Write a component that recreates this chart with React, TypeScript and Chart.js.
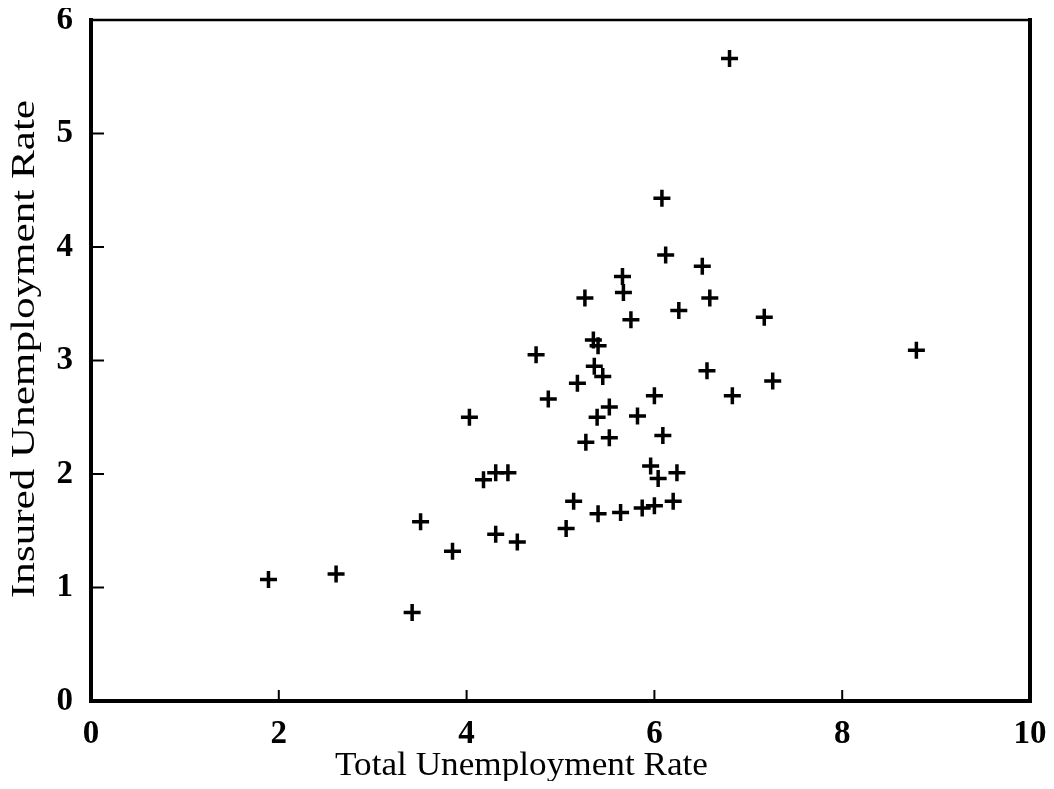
import React, { useEffect, useRef } from "react";
import { Chart, registerables } from "chart.js";

Chart.register(...registerables);

const totalRate = [
  1.89, 2.61, 3.42, 3.51, 3.85, 4.03, 4.18, 4.31, 4.44, 4.31,
  4.54, 4.87, 4.74, 5.06, 5.14, 5.18, 5.26, 5.27, 5.35, 5.40,
  5.36, 5.45, 5.39, 5.40, 5.52, 5.52, 5.64, 5.66, 5.67, 5.75,
  5.82, 5.87, 5.96, 6.00, 6.00, 6.04, 6.08, 6.09, 6.12, 6.20,
  6.24, 6.26, 6.51, 6.56, 6.59, 6.80, 6.83, 7.17, 7.26, 8.79,
];
const insuredRate = [
  1.07, 1.12, 0.78, 1.58, 1.32, 2.50, 1.95, 2.01, 2.01, 1.47,
  1.40, 2.66, 3.05, 1.52, 1.76, 2.80, 3.55, 2.28, 3.18, 3.13,
  2.95, 2.86, 2.50, 1.65, 2.59, 2.32, 1.66, 3.74, 3.60, 3.36,
  2.51, 1.70, 2.07, 2.69, 1.72, 1.96, 4.43, 2.34, 3.93, 1.76,
  2.01, 3.44, 3.83, 2.91, 3.55, 5.66, 2.69, 3.38, 2.82, 3.09,
];
const xTickValues = [0, 2, 4, 6, 8, 10];
const yTickValues = [0, 1, 2, 3, 4, 5, 6];
const xTitle = "Total Unemployment Rate";
const yTitle = "Insured Unemployment Rate";

const FONT = "'Liberation Serif', 'Times New Roman', serif";

const framePlugin = {
  id: "frameAndTitles",
  afterDraw(chart: any) {
    const { ctx, chartArea } = chart;
    const { left, right, top, bottom } = chartArea;
    ctx.save();
    ctx.strokeStyle = "#000";
    ctx.lineCap = "square";
    // frame
    ctx.lineWidth = 4;
    ctx.beginPath();
    ctx.moveTo(left, top);
    ctx.lineTo(left, bottom);
    ctx.lineTo(right, bottom);
    ctx.lineTo(right, top);
    ctx.stroke();
    ctx.lineWidth = 2.5;
    ctx.beginPath();
    ctx.moveTo(left, top);
    ctx.lineTo(right, top);
    ctx.stroke();
    // inward ticks
    ctx.lineWidth = 2;
    const xs = chart.scales.x;
    const ys = chart.scales.y;
    xTickValues.forEach((v) => {
      const px = xs.getPixelForValue(v);
      ctx.beginPath();
      ctx.moveTo(px, bottom);
      ctx.lineTo(px, bottom - 10);
      ctx.stroke();
    });
    yTickValues.forEach((v) => {
      const py = ys.getPixelForValue(v);
      ctx.beginPath();
      ctx.moveTo(left, py);
      ctx.lineTo(left + 12, py);
      ctx.stroke();
    });
    // axis titles
    ctx.fillStyle = "#000";
    ctx.font = `34px ${FONT}`;
    ctx.textBaseline = "alphabetic";
    ctx.textAlign = "center";
    let w = ctx.measureText(xTitle).width;
    ctx.save();
    ctx.translate(513.5, 767);
    ctx.scale(373 / w, 1);
    ctx.fillText(xTitle, 0, 0);
    ctx.restore();

    ctx.font = `33px ${FONT}`;
    w = ctx.measureText(yTitle).width;
    ctx.save();
    ctx.translate(26, 341);
    ctx.rotate(-Math.PI / 2);
    ctx.scale(498 / w, 1);
    ctx.fillText(yTitle, 0, 0);
    ctx.restore();
    ctx.restore();
  },
};

export default function App() {
  const ref = useRef<HTMLCanvasElement | null>(null);
  useEffect(() => {
    if (!ref.current) return;
    const data = totalRate.map((x, i) => ({ x, y: insuredRate[i] }));
    const tickFont = { family: FONT, size: 33, weight: "bold" as const };
    const chart = new Chart(ref.current, {
      type: "scatter",
      data: {
        datasets: [
          {
            data,
            pointStyle: "cross",
            pointRadius: 8.5,
            pointHoverRadius: 8.5,
            borderColor: "#000",
            backgroundColor: "#000",
            borderWidth: 3.5,
            pointBorderWidth: 3.5,
          },
        ],
      },
      options: {
        animation: false,
        responsive: false,
        maintainAspectRatio: false,
        layout: { padding: { left: 0, top: 12, right: 16, bottom: 0 } },
        plugins: { legend: { display: false }, tooltip: { enabled: false } },
        scales: {
          x: {
            type: "linear",
            min: 0,
            max: 10,
            afterBuildTicks: (s: any) => {
              s.ticks = xTickValues.map((v) => ({ value: v }));
            },
            afterFit: (s: any) => {
              s.height = 80;
              s.paddingLeft = 0;
              s.paddingRight = 0;
            },
            grid: { display: false, drawTicks: false },
            border: { display: false },
            ticks: { color: "#000", font: tickFont, padding: 14, maxRotation: 0 },
          },
          y: {
            type: "linear",
            min: 0,
            max: 6,
            afterBuildTicks: (s: any) => {
              s.ticks = yTickValues.map((v) => ({ value: v }));
            },
            afterFit: (s: any) => {
              s.width = 83;
              s.paddingTop = 0;
              s.paddingBottom = 0;
            },
            grid: { display: false, drawTicks: false },
            border: { display: false },
            ticks: { color: "#000", font: tickFont, padding: 18 },
          },
        },
      },
      plugins: [framePlugin],
    });
    return () => chart.destroy();
  }, []);
  return (
    <div style={{ width: 1038, height: 773 }}>
      <canvas ref={ref} width={1038} height={773} style={{ width: 1038, height: 773, display: "block" }} />
    </div>
  );
}
